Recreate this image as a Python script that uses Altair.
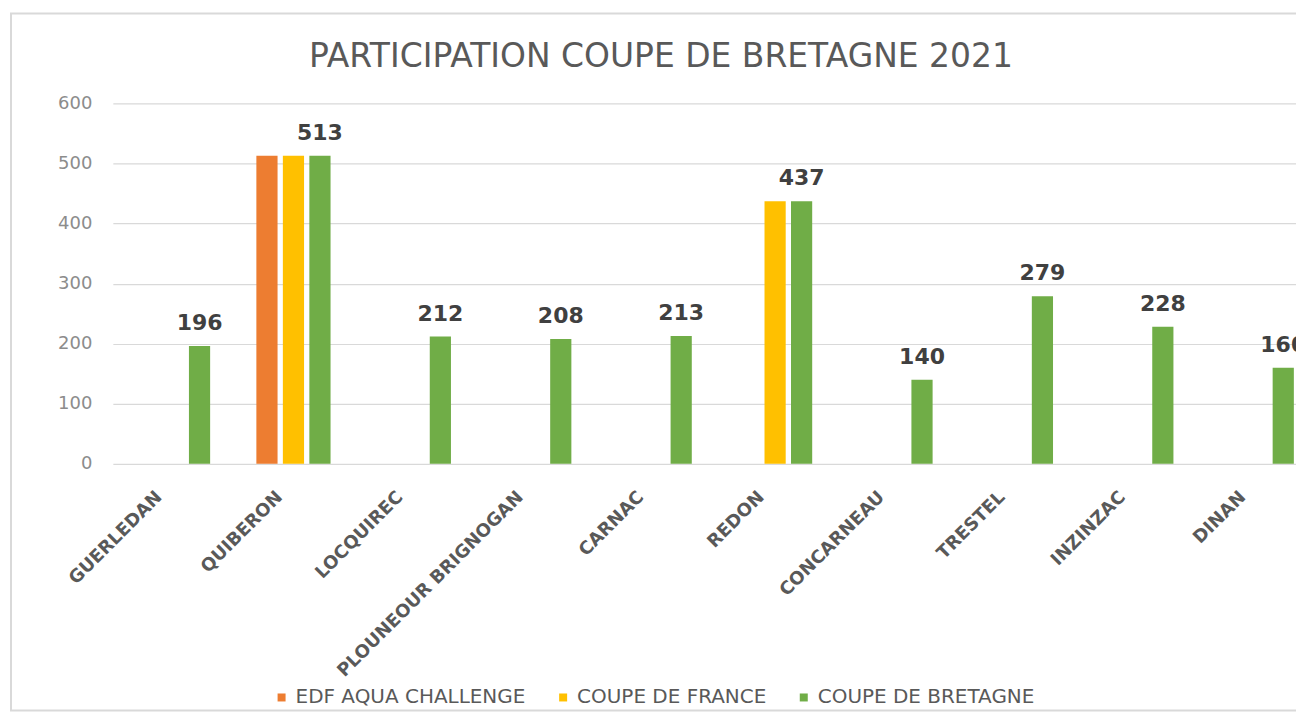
import altair as alt
import pandas as pd

title_text = "PARTICIPATION COUPE DE BRETAGNE 2021"
categories = ["GUERLEDAN", "QUIBERON", "LOCQUIREC", "PLOUNEOUR BRIGNOGAN", "CARNAC",
              "REDON", "CONCARNEAU", "TRESTEL", "INZINZAC", "DINAN"]
series = ["EDF AQUA CHALLENGE", "COUPE DE FRANCE", "COUPE DE BRETAGNE"]
edf_aqua = [None, 513, None, None, None, None, None, None, None, None]
coupe_france = [None, 513, None, None, None, 437, None, None, None, None]
coupe_bretagne = [196, 513, 212, 208, 213, 437, 140, 279, 228, 160]
colors = ["#ED7D31", "#FFC000", "#70AD47"]

rows = []
for s, vals in zip(series, [edf_aqua, coupe_france, coupe_bretagne]):
    for c, v in zip(categories, vals):
        if v is not None:
            rows.append({"lieu": c, "serie": s, "valeur": v})
df = pd.DataFrame(rows)

x_enc = alt.X("lieu:N", sort=categories,
              scale=alt.Scale(range=[0, 1206], paddingInner=0.34, paddingOuter=0.17),
              axis=alt.Axis(title=None, labelAngle=-45, labelFont="DejaVu Sans",
                            labelFontWeight="bold", labelFontSize=18, labelColor="#595959",
                            labelPadding=24, labelOffset=-20, ticks=False, domain=False,
                            grid=False, labelAlign="right", labelBaseline="top",
                            labelLimit=0, labelOverlap=False))
xoff_enc = alt.XOffset("serie:N", sort=series,
                       scale=alt.Scale(paddingInner=0.2, paddingOuter=0.1))
y_enc = alt.Y("valeur:Q", scale=alt.Scale(domain=[0, 600]),
              axis=alt.Axis(title=None, values=[0, 100, 200, 300, 400, 500, 600],
                            labelFont="DejaVu Sans", labelFontSize=18, labelColor="#8c8c8c",
                            labelPadding=21, ticks=False, domain=False,
                            gridColor="#d9d9d9", gridWidth=1.2))

base = alt.Chart(df)

bars = base.mark_bar().encode(
    x=x_enc,
    xOffset=xoff_enc,
    y=y_enc,
    color=alt.Color("serie:N", sort=series,
                    scale=alt.Scale(domain=series, range=colors),
                    legend=alt.Legend(title=None, orient="none", legendX=159, legendY=585,
                                      direction="horizontal", symbolType="square",
                                      symbolSize=64, symbolStrokeWidth=0,
                                      labelFont="DejaVu Sans", labelFontSize=20,
                                      labelColor="#595959", labelOffset=4,
                                      labelLimit=0, columnPadding=27, padding=0)),
)

labels = base.transform_filter(alt.datum.serie == "COUPE DE BRETAGNE").mark_text(
    font="DejaVu Sans", fontWeight="bold", fontSize=22, color="#404040",
    baseline="alphabetic", dy=-16
).encode(
    x=alt.X("lieu:N", sort=categories),
    xOffset=alt.XOffset("serie:N", sort=series),
    y=alt.Y("valeur:Q"),
    text=alt.Text("valeur:Q"),
)

frame = alt.Chart(alt.Data(values=[{}])).mark_rect(
    fill="transparent", stroke="#d9d9d9", strokeWidth=2
).encode(
    x=alt.value(-102), x2=alt.value(1600), y=alt.value(-90), y2=alt.value(608)
)

title = alt.Chart(alt.Data(values=[{"t": title_text}])).mark_text(
    font="DejaVu Sans", fontSize=33, color="#595959", align="center",
    baseline="alphabetic"
).encode(
    x=alt.value(549), y=alt.value(-36), text="t:N"
)

chart = alt.layer(frame, title, bars, labels).properties(
    width=1185,
    height=361,
    autosize=alt.AutoSizeParams(type="none"),
    padding={"left": 105, "top": 95, "right": 0, "bottom": 249},
).configure_view(stroke=None)

chart.save("out.html", embed_options={"renderer": "svg", "actions": False})
